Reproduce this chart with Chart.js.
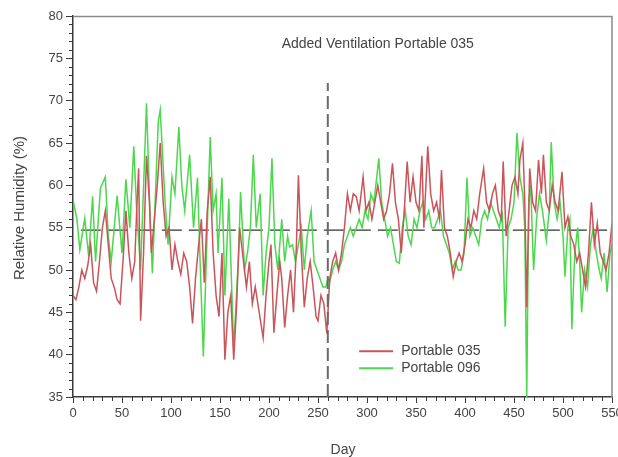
<!DOCTYPE html>
<html lang="en">
<head>
  <meta charset="UTF-8">
  <title>Relative Humidity</title>
  <script src="https://cdn.jsdelivr.net/npm/chart.js"></script>
  <style>
    body { margin: 0; background: #fff; }
  </style>
</head>
<body>
<canvas id="rhChart" width="618" height="457"></canvas>

<script>
  // values (day, %RH)
  var days035 = [0,3,6,9,12,15,18,21,24,27,30,33,36,39,42,45,48,51,54,57,60,63,65,67,69,72,75,78,80,83,86,89,92,95,98,101,104,107,110,113,116,119,122,125,128,131,134,137,140,143,146,149,152,155,158,161,164,167,170,173,177,180,183,186,190,194,197,200,202,205,208,211,213,216,219,222,225,228,230,233,236,239,242,245,248,250,253,256,259,
    262,265,268,271,274,277,280,283,286,289,292,296,299,302,305,308,311,314,317,320,323,326,329,332,335,338,341,344,347,350,353,356,358,362,365,368,371,374,376,379,382,385,388,391,394,397,400,403,406,409,412,415,419,422,425,428,431,434,437,439,442,445,448,451,454,456,459,461,463,466,469,472,475,478,480,483,486,489,492,495,499,502,505,508,511,514,517,520,523,526,529,532,535,538,541,544,547,550];
  var rh035 = [47,46.5,48,50,49,50.5,53,48.5,47.5,51,55,57,53,49,48,46.5,46,51,57,52,49,51,57,62,44,52,63.5,58,52,56,60,65,58,54,55,50,53,51,49.5,52,51,48,43.7,49,52.7,56,48.5,57,61,52,47,44.5,52,39.4,45,47,39.4,46,55,52,48,51,46,48,45,42,47,51,53,42.6,47,51,49,43.2,47,50,45,53,61.2,52,45.6,49,51,48,44.5,44,47,46,42.5,
    49,51,52,50,52,55,59,57,59,58.7,57,61,57,58,56,58,60,58,56,57,59,62.6,58,56,52,57,62.8,58,61,58,57,63.5,55,64.6,59,57,58,56,61.8,55,54,52,49.2,51,52,51,53,56,55,57,56,59,62,58,57,59,60,57,56,62.8,54,57,60,61,59,63,65,58,45.6,62,58,57,63,59,63.6,58,57,60,58,57,61.6,55,56.3,54,53,51,52,50,48,52,58,53,55.5,52,51,50,52,55.5];

  var days096 = [0,4,7,12,16,20,23,28,33,36,39,45,50,54,58,62,65,69,75,79,81,87,89,94,97,101,104,108,111,114,119,123,127,130,133,137,140,143,146,148,152,155,159,164,169,171,175,178,181,184,187,191,194,197,200,203,206,209,213,216,219,221,224,227,230,233,236,239,243,246,249,252,255,258,260,
    262,265,268,271,274,277,280,283,286,289,292,295,298,301,304,307,310,312,315,318,321,324,327,330,333,336,339,342,345,348,351,354,357,360,363,366,369,372,375,378,381,384,387,390,393,396,399,402,405,408,411,414,417,420,423,426,429,432,435,438,441,444,447,450,453,456,459,461,463,465,467,470,473,476,479,483,486,488,491,494,497,500,502,505,507,509,512,515,517,519,522,525,528,531,534,537,539,542,545,548,550];
  var rh096 = [58.3,56,52.4,56.1,51.6,58.7,51,59.7,61,54,51,58.8,52,60.7,55,64.6,57,50,69.7,55,49.6,67.5,68.9,58,53,61,59,66.9,60,57,63.6,55,60.9,50,39.8,55,65.7,57,59,52,60.9,47,58.4,40.6,52,59.2,50,52,55,63.6,55,59,47,52,55,63.2,53,50,56,51,54,52.7,53,51,53,55,50,54,57,51,50,49,48,48,49,
    48.6,50,51,50,51,53,54,55,54,55,56,55,57,56,59,58,61,63.2,58,56,54,55,53,51,50.8,55,57,54,53,56,55,57,58,56,57,55,55,56,57,54,53,52,50,51,50,50,52,60.9,54,55,54,53,56,57,56,58,57,56,55,57,43.3,55,56,58,66.2,61,59,55,35,58,60,50,56,59,57,53.5,57,65.1,58,56,58,54,49.2,55,56,43,52,55,51,45,50,48,53,55,52,50,49,52,47.4,52,53];

  var avgLevel = 54.7;      // horizontal reference
  var ventDay = 260;        // vertical marker
  var xTicks = [0, 550, 50];
  var yTicks = [35, 80, 5];

  function pts(xs, ys) {
    return xs.map(function (d, i) { return { x: d, y: ys[i] }; });
  }

  var ink = '#3a3a3a';
  var font = "'Liberation Sans', Arial, sans-serif";

  // minor ticks, frame, titles, note and legend
  var decor = {
    id: 'decor',
    afterDraw: function (chart) {
      var c = chart.ctx, a = chart.chartArea;
      var xs = chart.scales.x, ys = chart.scales.y;
      c.save();
      c.strokeStyle = '#8a8a8a';
      c.lineWidth = 1.5;
      c.beginPath();
      c.moveTo(a.left, a.top + 0.5); c.lineTo(a.right, a.top + 0.5); c.lineTo(a.right, a.bottom);
      c.stroke();

      c.strokeStyle = ink;
      c.lineWidth = 1;
      c.beginPath();
      for (var v = yTicks[0]; v <= yTicks[1]; v++) {
        if (v % 5 === 0) continue;
        var py = Math.round(ys.getPixelForValue(v)) + 0.5;
        c.moveTo(a.left - 4, py); c.lineTo(a.left, py);
      }
      for (var d = xTicks[0]; d <= xTicks[1]; d += 10) {
        if (d % 50 === 0) continue;
        var px = Math.round(xs.getPixelForValue(d)) + 0.5;
        c.moveTo(px, a.bottom); c.lineTo(px, a.bottom + 4);
      }
      c.stroke();

      c.fillStyle = '#444';
      c.font = '14px ' + font;
      c.textAlign = 'center';
      c.textBaseline = 'middle';
      c.fillText('Day', 343, 450);
      c.fillText('Added Ventilation Portable 035', xs.getPixelForValue(311), ys.getPixelForValue(76.7));
      c.save();
      c.translate(20, 208);
      c.rotate(-Math.PI / 2);
      c.font = '15px ' + font;
      c.fillText('Relative Humidity (%)', 0, 0);
      c.restore();

      // legend inside the plot
      var lx = xs.getPixelForValue(292), ly = ys.getPixelForValue(40.4);
      c.textAlign = 'left';
      c.font = '14px ' + font;
      chart.data.datasets.slice(0, 2).forEach(function (ds, i) {
        var y = ly + i * 17;
        c.strokeStyle = ds.borderColor;
        c.lineWidth = 2;
        c.beginPath(); c.moveTo(lx, y); c.lineTo(lx + 34, y); c.stroke();
        c.fillStyle = '#444';
        c.fillText(ds.label, lx + 42, y);
      });
      c.restore();
    }
  };

  var ctx = document.getElementById('rhChart').getContext('2d');
  new Chart(ctx, {
    type: 'scatter',
    data: {
      datasets: [
        { label: 'Portable 035', data: pts(days035, rh035), borderColor: '#c9555a', borderWidth: 1.5, showLine: true, pointRadius: 0, tension: 0 },
        { label: 'Portable 096', data: pts(days096, rh096), borderColor: '#4cd84c', borderWidth: 1.5, showLine: true, pointRadius: 0, tension: 0 },
        { label: 'avg', data: pts([8, 545], [avgLevel, avgLevel]), borderColor: '#333', borderWidth: 1.3, borderDash: [20, 7], showLine: true, pointRadius: 0, order: 5 },
        { label: 'vent', data: pts([ventDay, ventDay], [35, 72.1]), borderColor: '#6a6a6a', borderWidth: 2, borderDash: [13, 5], showLine: true, pointRadius: 0, order: -1 }
      ]
    },
    plugins: [decor],
    options: {
      responsive: false,
      animation: false,
      layout: { padding: { top: 16, right: 6, left: 0, bottom: 0 } },
      plugins: { legend: { display: false }, tooltip: { enabled: false } },
      scales: {
        x: {
          type: 'linear', min: xTicks[0], max: xTicks[1],
          ticks: { stepSize: xTicks[2], color: '#444', font: { family: font, size: 13 }, padding: 3, maxRotation: 0 },
          grid: { drawOnChartArea: false, tickLength: 6, color: ink },
          border: { color: ink, width: 1.5 },
          afterFit: function (s) { s.height = 60; s.paddingLeft = 0; s.paddingRight = 0; }
        },
        y: {
          min: yTicks[0], max: yTicks[1],
          ticks: { stepSize: yTicks[2], color: '#444', font: { family: font, size: 13 }, padding: 3 },
          grid: { drawOnChartArea: false, tickLength: 7, color: ink },
          border: { color: ink, width: 1.5 },
          afterFit: function (s) { s.width = 73; s.paddingTop = 0; s.paddingBottom = 0; }
        }
      }
    }
  });
</script>
</body>
</html>
